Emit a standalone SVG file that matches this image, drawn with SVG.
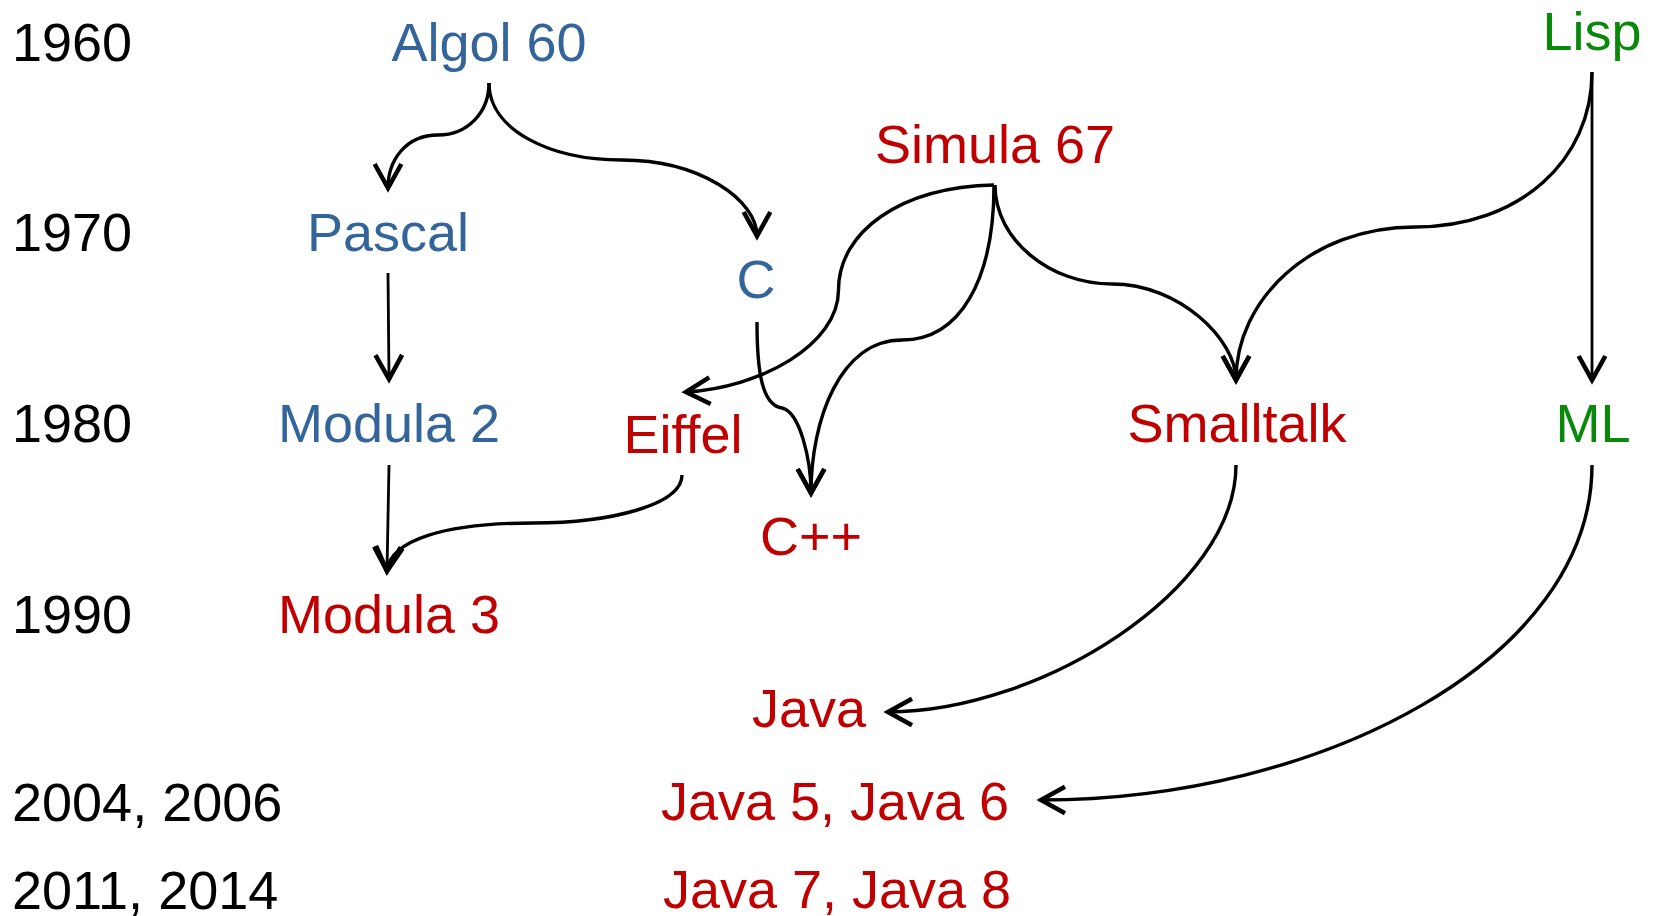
<svg xmlns="http://www.w3.org/2000/svg" width="1654" height="916" viewBox="0 0 1654 916">
<style>
text{font-family:"Liberation Sans",Arial,sans-serif;font-size:54px;}
.yr{fill:#000;}
.blue{fill:#34659A;text-anchor:middle;}
.red{fill:#C00000;text-anchor:middle;}
.green{fill:#0A880A;text-anchor:middle;}
.c{fill:none;stroke:#000;stroke-width:3.4;marker-end:url(#ah);}
.s{fill:none;stroke:#000;stroke-width:2.8;}
</style>
<defs>
<marker id="ah" markerUnits="userSpaceOnUse" markerWidth="40" markerHeight="40" viewBox="-24 -14 30 28" refX="0" refY="0" orient="auto" overflow="visible">
<path d="M-18,-10 L0,0 L-18,10" fill="none" stroke="#000" stroke-width="3.4" stroke-linejoin="miter"/>
</marker>
</defs>
<rect width="1654" height="916" fill="#fff"/>
<g id="years">
<text class="yr" x="12" y="61">1960</text>
<text class="yr" x="12" y="251">1970</text>
<text class="yr" x="12" y="442">1980</text>
<text class="yr" x="12" y="633">1990</text>
<text class="yr" x="12" y="821">2004, 2006</text>
<text class="yr" x="12" y="909">2011, 2014</text>
</g>
<g id="connectors">
<path class="c" d="M489,83 C489,112 468,135 438,135 C406,135 388,160 388,188"/>
<path class="c" d="M489,83 C489,130 550,160 622,160 C700,160 757,200 757,236"/>
<path class="c s" d="M388,273 L389,379"/>
<path class="c s" d="M389,465 L387,571"/>
<path class="c" d="M682,475 C682,505 610,523 533,523 C445,523 390,540 387,571"/>
<path class="c" d="M994,185 C900,187 838.5,232 838.5,290 C838.5,345 760,388 686,392"/>
<path class="c" d="M994,185 C994,280 960,340 902,340 C840,340 811,420 811,493"/>
<path class="c" d="M757,322 C757,372 762,405 782,408 C800,412 811,460 811,493"/>
<path class="c" d="M995,185 C995,240 1050,284 1112,284 C1180,284 1236,340 1236,380"/>
<path class="c" d="M1592,72 C1592,160 1520,227 1415,227 C1310,227 1236,300 1236,380"/>
<path class="c s" d="M1592,72 L1592,380"/>
<path class="c" d="M1236,465 C1236,590 1040,712 888,712"/>
<path class="c" d="M1592,465 C1592,660 1320,800 1041,800"/>
</g>
<g id="algol60"><text class="blue" x="489" y="61">Algol 60</text></g>
<g id="pascal"><text class="blue" x="388" y="251">Pascal</text></g>
<g id="c"><text class="blue" x="756" y="298">C</text></g>
<g id="modula2"><text class="blue" x="389" y="442">Modula 2</text></g>
<g id="simula67"><text class="red" x="995" y="163">Simula 67</text></g>
<g id="lisp"><text class="green" x="1592" y="50">Lisp</text></g>
<g id="eiffel"><text class="red" x="683" y="453">Eiffel</text></g>
<g id="cpp"><text class="red" x="811" y="555">C++</text></g>
<g id="smalltalk"><text class="red" x="1237" y="442">Smalltalk</text></g>
<g id="ml"><text class="green" x="1593" y="442">ML</text></g>
<g id="modula3"><text class="red" x="389" y="633">Modula 3</text></g>
<g id="java"><text class="red" x="809" y="727">Java</text></g>
<g id="java56"><text class="red" x="835" y="820">Java 5, Java 6</text></g>
<g id="java78"><text class="red" x="837" y="908">Java 7, Java 8</text></g>
</svg>
